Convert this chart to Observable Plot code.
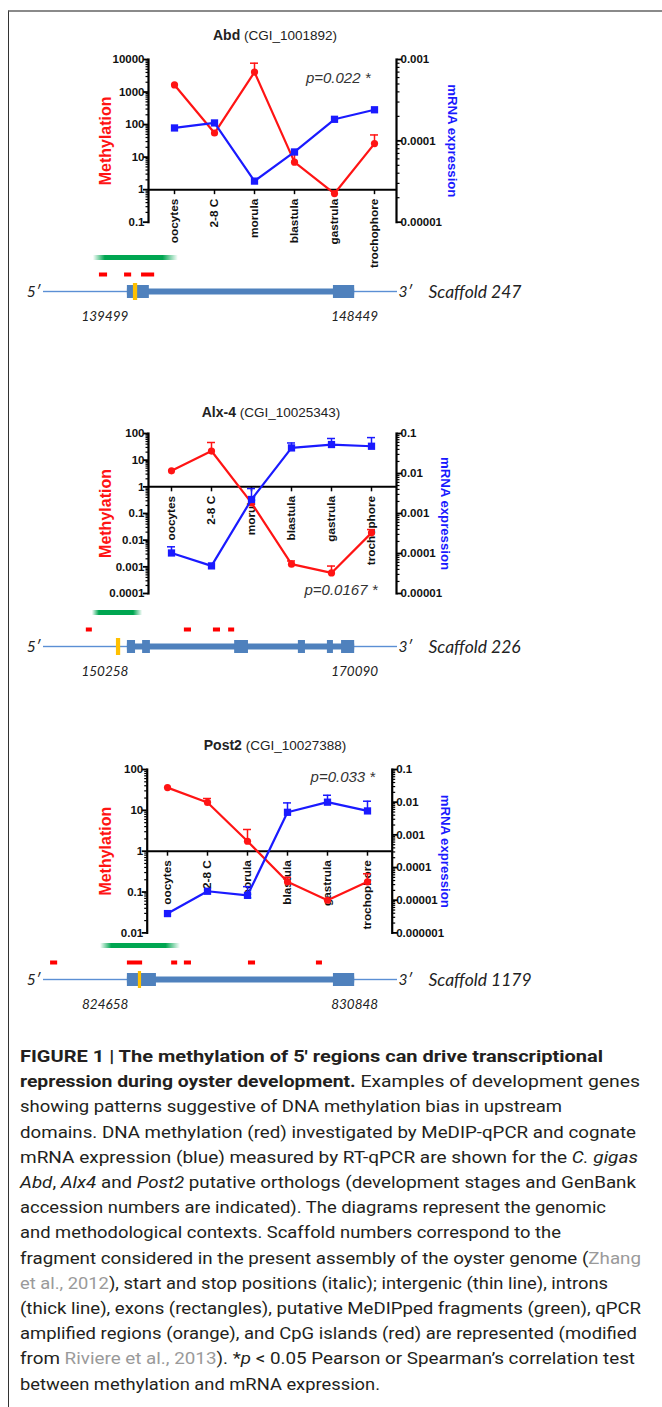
<!DOCTYPE html>
<html><head><meta charset="utf-8">
<script src="https://cdn.jsdelivr.net/npm/d3@7"></script>
<script src="https://cdn.jsdelivr.net/npm/@observablehq/plot@0.6"></script>
<style>
body{margin:0;background:#fff;}
#page{position:relative;width:662px;height:1407px;overflow:hidden;background:#fff;font-family:"Liberation Sans",Arial,sans-serif;}
#page svg{position:absolute;left:0;}
#border{position:absolute;left:8px;top:10px;right:-5px;bottom:-5px;border-top:2px solid #8a8a8a;border-left:1.5px solid #333;}
.title{position:absolute;white-space:nowrap;transform:translate(-50%,-50%);color:#222;font-size:13.5px;}
.title b{font-size:14px;}
#caption{position:absolute;left:20px;top:1044px;font-family:Roboto,sans-serif;font-size:17px;line-height:25.2px;color:#231f20;white-space:nowrap;}
#caption .ln{display:inline-block;transform-origin:0 50%;}
#caption b{font-weight:700;}
.gray{color:#9a9a9a}
</style></head><body><div id="page"><div id="border"></div></div><script>
// ---------- data ----------
const stages = ["oocytes","2-8 C","morula","blastula","gastrula","trochophore"];

// Abd
const abdMeth    = [1650, 55, 4100, 7, 0.76, 26];
const abdMethErr = [null, null, 7700, 12, null, 48];
const abdMrna    = [1.44e-4, 1.66e-4, 3.2e-5, 7.3e-5, 1.84e-4, 2.41e-4];
const abdMrnaErr = [null, null, null, null, null, null];
const abdMethTicks = ["0.1","1","10","100","1000","10000"];
const abdMrnaTicks = ["0.00001","0.0001","0.001"];

// Alx-4
const alxMeth    = [4.0, 22, 0.25, 0.00126, 0.00059, 0.0188];
const alxMethErr = [null, 46, null, 0.00166, 0.00107, 0.025];
const alxMrna    = [1.03e-4, 4.9e-5, 2.24e-3, 0.0436, 0.053, 0.048];
const alxMrnaErr = [1.47e-4, null, 4.2e-3, 0.058, 0.075, 0.079];
const alxMethTicks = ["0.0001","0.001","0.01","0.1","1","10","100"];
const alxMrnaTicks = ["0.00001","0.0001","0.001","0.01","0.1"];

// Post2
const postMeth    = [36, 15.6, 1.75, 0.178, 0.063, 0.178];
const postMethErr = [null, 19.5, 3.4, 0.23, null, 0.28];
const postMrna    = [3.9e-6, 1.88e-5, 1.41e-5, 4.9e-3, 0.01, 5.4e-3];
const postMrnaErr = [null, null, 2.6e-5, 9.5e-3, 0.0163, 0.0107];
const postMethTicks = ["0.01","0.1","1","10","100"];
const postMrnaTicks = ["0.000001","0.00001","0.0001","0.001","0.01","0.1"];

// gene diagrams (relative position along drawn scaffold segment, 0–100)
const lineExtent = [0, 100];
const abdExons = [[23.7,29.9],[81.9,87.9]];
const abdQpcr  = [25.4,26.6];
const abdMedip = [14.1,38.1];
const abdCpg   = [[15.8,18.1],[22.9,24.9],[27.7,31.4]];
const abdPos   = ["139499","148449"];
const alxExons = [[23.7,26.0],[28.0,30.2],[54.0,57.9],[72.0,74.0],[80.2,81.9],[84.2,87.9]];
const alxQpcr  = [20.6,21.8];
const alxMedip = [13.8,28.0];
const alxCpg   = [[12.1,13.8],[39.8,41.8],[48.0,50.0],[52.3,54.0]];
const alxPos   = ["150258","170090"];
const postExons = [[23.7,31.9],[81.9,87.9]];
const postQpcr  = [26.8,27.7];
const postMedip = [16.1,38.7];
const postCpg   = [[2.0,4.0],[23.7,28.0],[36.2,37.9],[39.8,41.8],[57.9,59.9],[77.1,78.8]];
const postPos   = ["824658","830848"];

// caption lines
const captionLines = [
 `<b>FIGURE 1 | The methylation of 5′ regions can drive transcriptional</b>`,
 `<b>repression during oyster development.</b> Examples of development genes`,
 `showing patterns suggestive of DNA methylation bias in upstream`,
 `domains. DNA methylation (red) investigated by MeDIP-qPCR and cognate`,
 `mRNA expression (blue) measured by RT-qPCR are shown for the <i>C. gigas</i>`,
 `<i>Abd</i>, <i>Alx4</i> and <i>Post2</i> putative orthologs (development stages and GenBank`,
 `accession numbers are indicated). The diagrams represent the genomic`,
 `and methodological contexts. Scaffold numbers correspond to the`,
 `fragment considered in the present assembly of the oyster genome (<span class="gray">Zhang</span>`,
 `<span class="gray">et al., 2012</span>), start and stop positions (italic); intergenic (thin line), introns`,
 `(thick line), exons (rectangles), putative MeDIPped fragments (green), qPCR`,
 `amplified regions (orange), and CpG islands (red) are represented (modified`,
 `from <span class="gray">Riviere et al., 2013</span>). *<i>p</i> &lt; 0.05 Pearson or Spearman’s correlation test`,
 `between methylation and mRNA expression.`
];
const captionLineEnds = [603,640,562,636,638,636,606,561,641,608,641,637,635,380];

// ---------- drawing ----------
const page = document.getElementById("page");
const RED = "#ff1414", BLUE = "#1a1aff";
const FONT = "Liberation Sans, Arial, sans-serif";

function minorTicks(lo, hi){
  const out=[];
  for(let e=Math.round(Math.log10(lo)); e<Math.round(Math.log10(hi)); e++)
    for(let k=2;k<=9;k++) out.push(+(k*Math.pow(10,e)).toPrecision(3));
  return out;
}

function addTitle(bold, rest, x, y){
  const d=document.createElement("div");
  d.className="title"; d.style.left=x+"px"; d.style.top=y+"px";
  d.innerHTML=`<b>${bold}</b> ${rest}`;
  page.appendChild(d);
}

function chart(c){
  const rows = stages.map((s,i)=>({stage:s, meth:c.meth[i], methErr:c.methErr[i], mrna:c.mrna[i], mrnaErr:c.mrnaErr[i]}));
  const methBars = rows.filter(d=>d.methErr!=null);
  const mrnaBars = rows.filter(d=>d.mrnaErr!=null);
  const mt=30, mb=80;
  const H = c.bottom - c.top + mt + mb;
  const base = {width:662, height:H, marginLeft:c.left, marginRight:662-c.right, marginTop:mt, marginBottom:mb,
    x:{type:"point", domain:stages, padding:c.pad, align:c.align, axis:null},
    style:{background:"transparent", overflow:"visible", fontFamily:FONT}};
  const mVals=c.methTicks.map(Number), mMap=new Map(c.methTicks.map(t=>[Number(t),t]));
  const rVals=c.mrnaTicks.map(Number), rMap=new Map(c.mrnaTicks.map(t=>[Number(t),t]));
  const mDom=[mVals[0], mVals[mVals.length-1]], rDom=[rVals[0], rVals[rVals.length-1]];

  const left = Plot.plot({...base,
    y:{type:"log", domain:mDom, axis:null},
    marks:[
      Plot.text(stages,{x:d=>d, y:()=>1, text:d=>d, rotate:-90, textAnchor:"end", dy:9, fontWeight:"bold", fontSize:11.8, fill:"#111"}),
      Plot.ruleY([1],{stroke:"#000", strokeWidth:2}),
      Plot.ruleX(stages,{x:d=>d, y1:()=>1, y2:()=>1, insetBottom:-5, stroke:"#000", strokeWidth:1.5}),
      Plot.frame({anchor:"left", stroke:"#000", strokeWidth:2.2}),
      Plot.axisY({anchor:"left", ticks:minorTicks(...mDom), tickSize:2.5, tickFormat:()=>"", strokeWidth:1.2, label:null}),
      Plot.axisY({anchor:"left", ticks:mVals, tickSize:5, tickPadding:-1, tickFormat:d=>mMap.get(d), strokeWidth:1.8, fontWeight:"bold", fontSize:11.5, fill:"#111", label:null}),
      Plot.ruleX(methBars,{x:"stage", y1:"meth", y2:"methErr", stroke:RED, strokeWidth:1.5}),
      Plot.ruleY(methBars,{x1:"stage", x2:"stage", y:"methErr", insetLeft:-4, insetRight:-4, stroke:RED, strokeWidth:1.5}),
      Plot.line(rows,{x:"stage", y:"meth", stroke:RED, strokeWidth:2.2}),
      Plot.dot(rows,{x:"stage", y:"meth", r:3.6, fill:RED}),
      Plot.text(["Methylation"],{text:d=>d, frameAnchor:"left", textAnchor:"middle", lineAnchor:"middle", dx:c.mdx, rotate:-90, fill:RED, fontWeight:"bold", fontSize:16}),
      Plot.text([c.p],{text:d=>d, frameAnchor:c.pAnchor, textAnchor:"end", lineAnchor:"middle", dx:c.pdx, dy:c.pdy, fontStyle:"italic", fontSize:15, fill:"#333"})
    ]});
  const right = Plot.plot({...base,
    y:{type:"log", domain:rDom, axis:null},
    marks:[
      Plot.frame({anchor:"right", stroke:"#000", strokeWidth:2.2}),
      Plot.axisY({anchor:"right", ticks:minorTicks(...rDom), tickSize:2.5, tickFormat:()=>"", strokeWidth:1.2, label:null}),
      Plot.axisY({anchor:"right", ticks:rVals, tickSize:5, tickPadding:-1, tickFormat:d=>rMap.get(d), strokeWidth:1.8, fontWeight:"bold", fontSize:11.5, fill:"#111", label:null}),
      Plot.ruleX(mrnaBars,{x:"stage", y1:"mrna", y2:"mrnaErr", stroke:BLUE, strokeWidth:1.5}),
      Plot.ruleY(mrnaBars,{x1:"stage", x2:"stage", y:"mrnaErr", insetLeft:-4, insetRight:-4, stroke:BLUE, strokeWidth:1.5}),
      Plot.line(rows,{x:"stage", y:"mrna", stroke:BLUE, strokeWidth:2.2}),
      Plot.dot(rows,{x:"stage", y:"mrna", r:4.1, symbol:"square", fill:BLUE}),
      Plot.text(["mRNA expression"],{text:d=>d, frameAnchor:"right", textAnchor:"middle", lineAnchor:"middle", dx:c.rdx, rotate:90, fill:BLUE, fontWeight:"bold", fontSize:13.2})
    ]});
  for(const s of [left,right]){ s.style.top=(c.top-mt)+"px"; page.appendChild(s); }
}

function gene(g){
  const intron=[{x1:g.exons[0][0], x2:g.exons[g.exons.length-1][1]}];
  const exons=g.exons.map(([a,b])=>({x1:a,x2:b}));
  const cpg=g.cpg.map(([a,b])=>({x1:a,x2:b}));
  const gid="grad"+g.id;
  const mt=5, band=17;
  const svg = Plot.plot({width:662, height:mt+3*band+35, marginLeft:43, marginRight:265, marginTop:mt, marginBottom:35,
    x:{domain:lineExtent, axis:null},
    y:{type:"band", domain:["MeDIP","CpG","gene"], padding:0, axis:null},
    style:{background:"transparent", overflow:"visible", fontFamily:"Lato, sans-serif"},
    marks:[
      ()=>{const defs=d3.create("svg:defs");
        const lg=defs.append("linearGradient").attr("id",gid).attr("x1","0").attr("x2","1").attr("y1","0").attr("y2","0");
        [[0,0],[0.14,1],[0.82,1],[1,0]].forEach(([o,a])=>lg.append("stop").attr("offset",o).attr("stop-color","#00a651").attr("stop-opacity",a));
        return defs.node();},
      Plot.barX([{x1:lineExtent[0],x2:lineExtent[1]}],{x1:"x1",x2:"x2",y:()=>"gene",insetTop:7.8,insetBottom:7.8,fill:"#5b8fd4"}),
      Plot.barX(intron,{x1:"x1",x2:"x2",y:()=>"gene",insetTop:5.5,insetBottom:5.5,fill:"#4f81bd"}),
      Plot.barX(exons,{x1:"x1",x2:"x2",y:()=>"gene",insetTop:2,insetBottom:2,fill:"#4f81bd"}),
      Plot.barX([{x1:g.qpcr[0],x2:g.qpcr[1]}],{x1:"x1",x2:"x2",y:()=>"gene",fill:"#ffc000"}),
      Plot.barX(cpg,{x1:"x1",x2:"x2",y:()=>"CpG",insetTop:6.5,insetBottom:6.5,fill:"#ff0000"}),
      Plot.barX([{x1:g.medip[0],x2:g.medip[1]}],{x1:"x1",x2:"x2",y:()=>"MeDIP",insetTop:6,insetBottom:6,fill:`url(#${gid})`}),
      Plot.text(["5′"],{x:()=>lineExtent[0], y:()=>"gene", text:d=>d, textAnchor:"end", dx:-3, fontStyle:"italic", fontSize:15.5, fill:"#222"}),
      Plot.text(["3′"],{x:()=>lineExtent[1], y:()=>"gene", text:d=>d, textAnchor:"start", dx:1, fontStyle:"italic", fontSize:15.5, fill:"#222"}),
      Plot.text([g.scaffold],{x:()=>lineExtent[1], y:()=>"gene", text:d=>d, textAnchor:"start", dx:31, fontStyle:"italic", fontSize:17.5, fill:"#222"}),
      Plot.text([g.pos[0]],{x:()=>g.exons[0][0], y:()=>"gene", text:d=>d, textAnchor:"end", dx:1, dy:25, fontStyle:"italic", fontSize:13.5, fill:"#222"}),
      Plot.text([g.pos[1]],{x:()=>g.exons[g.exons.length-1][1], y:()=>"gene", text:d=>d, textAnchor:"middle", dy:25, fontStyle:"italic", fontSize:13.5, fill:"#222"})
    ]});
  svg.style.top=(g.lineY-mt-2.5*band)+"px";
  page.appendChild(svg);
}

addTitle("Abd","(CGI_1001892)",275,35);
chart({meth:abdMeth, methErr:abdMethErr, mrna:abdMrna, mrnaErr:abdMrnaErr, methTicks:abdMethTicks, mrnaTicks:abdMrnaTicks,
  top:59, bottom:221.7, left:148, right:396, pad:0.574, align:0.546, mdx:-43, rdx:56,
  p:"p=0.022 *", pAnchor:"top-right", pdx:-26, pdy:19});
gene({id:1, exons:abdExons, qpcr:abdQpcr, medip:abdMedip, cpg:abdCpg, pos:abdPos, scaffold:"Scaffold 247", lineY:291.7});

addTitle("Alx-4","(CGI_10025343)",271,411.7);
chart({meth:alxMeth, methErr:alxMethErr, mrna:alxMrna, mrnaErr:alxMrnaErr, methTicks:alxMethTicks, mrnaTicks:alxMrnaTicks,
  top:433.3, bottom:593.3, left:148, right:396, pad:0.559, align:0.486, mdx:-43, rdx:49,
  p:"p=0.0167 *", pAnchor:"bottom-right", pdx:-19, pdy:-3});
gene({id:2, exons:alxExons, qpcr:alxQpcr, medip:alxMedip, cpg:alxCpg, pos:alxPos, scaffold:"Scaffold 226", lineY:646.7});

addTitle("Post2","(CGI_10027388)",275,745);
chart({meth:postMeth, methErr:postMethErr, mrna:postMrna, mrnaErr:postMrnaErr, methTicks:postMethTicks, mrnaTicks:postMrnaTicks,
  top:769.3, bottom:932.7, left:146.7, right:391.7, pad:0.523, align:0.448, mdx:-41.7, rdx:53.3,
  p:"p=0.033 *", pAnchor:"top-right", pdx:-17, pdy:7.4});
gene({id:3, exons:postExons, qpcr:postQpcr, medip:postMedip, cpg:postCpg, pos:postPos, scaffold:"Scaffold 1179", lineY:979.3});

// caption
const cap=document.createElement("div");
cap.id="caption";
cap.innerHTML=captionLines.map(l=>`<div><span class="ln">${l}</span></div>`).join("");
page.appendChild(cap);
cap.querySelectorAll(".ln").forEach((el,i)=>{
  const w=el.getBoundingClientRect().width;
  el.style.transform=`scaleX(${(captionLineEnds[i]-20)/w})`;
});
</script></body></html>
